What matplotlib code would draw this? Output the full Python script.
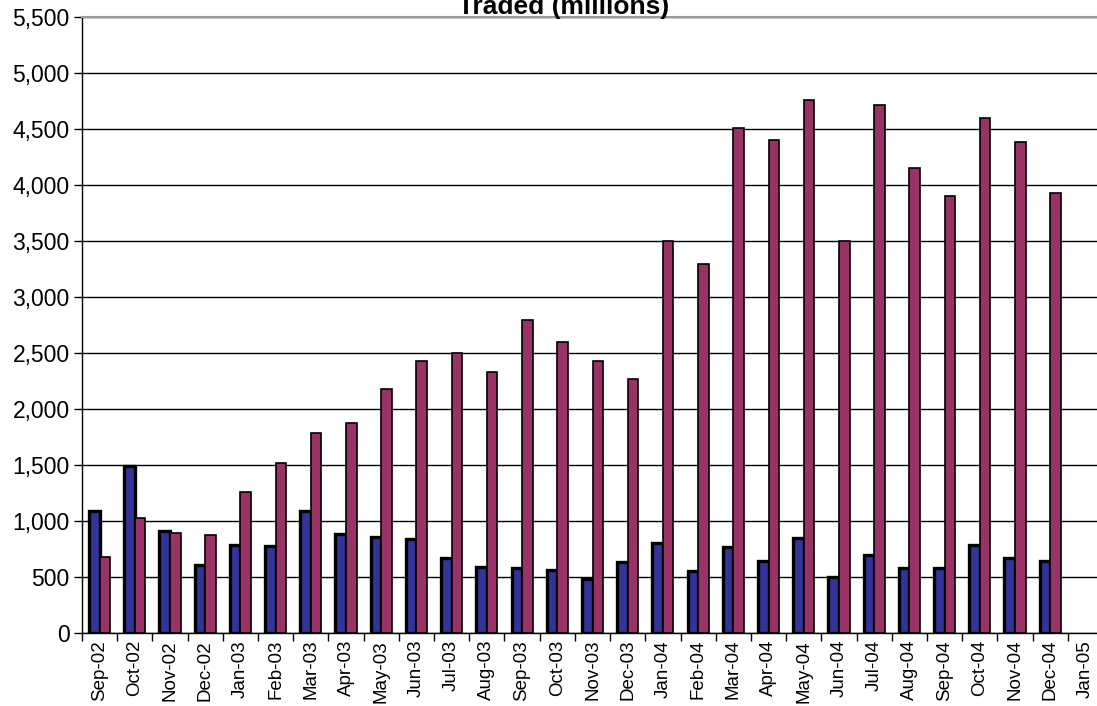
import matplotlib
matplotlib.use("Agg")
import matplotlib.pyplot as plt
from matplotlib.ticker import FuncFormatter, FixedLocator
import numpy as np

months = ["Sep-02", "Oct-02", "Nov-02", "Dec-02", "Jan-03", "Feb-03", "Mar-03", "Apr-03",
          "May-03", "Jun-03", "Jul-03", "Aug-03", "Sep-03", "Oct-03", "Nov-03", "Dec-03",
          "Jan-04", "Feb-04", "Mar-04", "Apr-04", "May-04", "Jun-04", "Jul-04", "Aug-04",
          "Sep-04", "Oct-04", "Nov-04", "Dec-04", "Jan-05"]
series_a = [1090, 1490, 911, 607, 786, 777, 1085, 884, 857, 839, 670, 589, 580, 562, 482, 634,
            804, 553, 768, 643, 848, 500, 696, 578, 582, 786, 670, 643, np.nan]
series_b = [680, 1030, 893, 875, 1259, 1520, 1786, 1875, 2179, 2429, 2500, 2332, 2795, 2598,
            2429, 2268, 3500, 3295, 4509, 4402, 4759, 3500, 4714, 4152, 3902, 4598, 4384, 3929, np.nan]
y_ticks = list(range(0, 5501, 500))
title = "Traded (millions)"

plt.rcParams['font.family'] = ['Liberation Sans', 'DejaVu Sans']

fig = plt.figure(figsize=(10.97, 7.06), dpi=100)
W, H = 1097, 706
ax = fig.add_axes([82 / W, 1 - 633 / H, (1103 - 82) / W, (633 - 17) / H])

x = np.arange(len(months))
bw = 0.3
ax.bar(x - bw / 2, series_a, width=bw, color="#333399", edgecolor="black", linewidth=2.4, zorder=3)
ax.bar(x + bw / 2, series_b, width=bw, color="#993366", edgecolor="black", linewidth=1.2, zorder=3)

ax.set_xlim(-0.5, len(months) - 0.5)
ax.set_ylim(0, 5500)
ax.set_yticks(y_ticks)
ax.yaxis.set_major_formatter(FuncFormatter(lambda v, p: f"{int(v):,}"))
ax.grid(axis="y", color="black", linewidth=1.0, zorder=0)
ax.set_axisbelow(True)

ax.set_xticks(x)
ax.set_xticklabels(months, rotation=90, fontsize=13.5)
ax.tick_params(axis="x", which="major", length=0, pad=5)
ax.xaxis.set_minor_locator(FixedLocator(np.arange(-0.5, len(months) - 0.5, 1.0)))
ax.tick_params(axis="x", which="minor", length=6, width=1, color="black")
ax.tick_params(axis="y", length=6, width=1, labelsize=16.5, pad=3)

for s in ["left", "bottom"]:
    ax.spines[s].set_color("black")
    ax.spines[s].set_linewidth(1.0)
ax.spines["right"].set_visible(False)
ax.spines["top"].set_color("#999999")
ax.spines["top"].set_linewidth(1.5)

fig.text(564 / W, 1 - 14 / H, title, ha="center", va="baseline", fontsize=19, fontweight="bold")

fig.savefig("out.png", dpi=100)
